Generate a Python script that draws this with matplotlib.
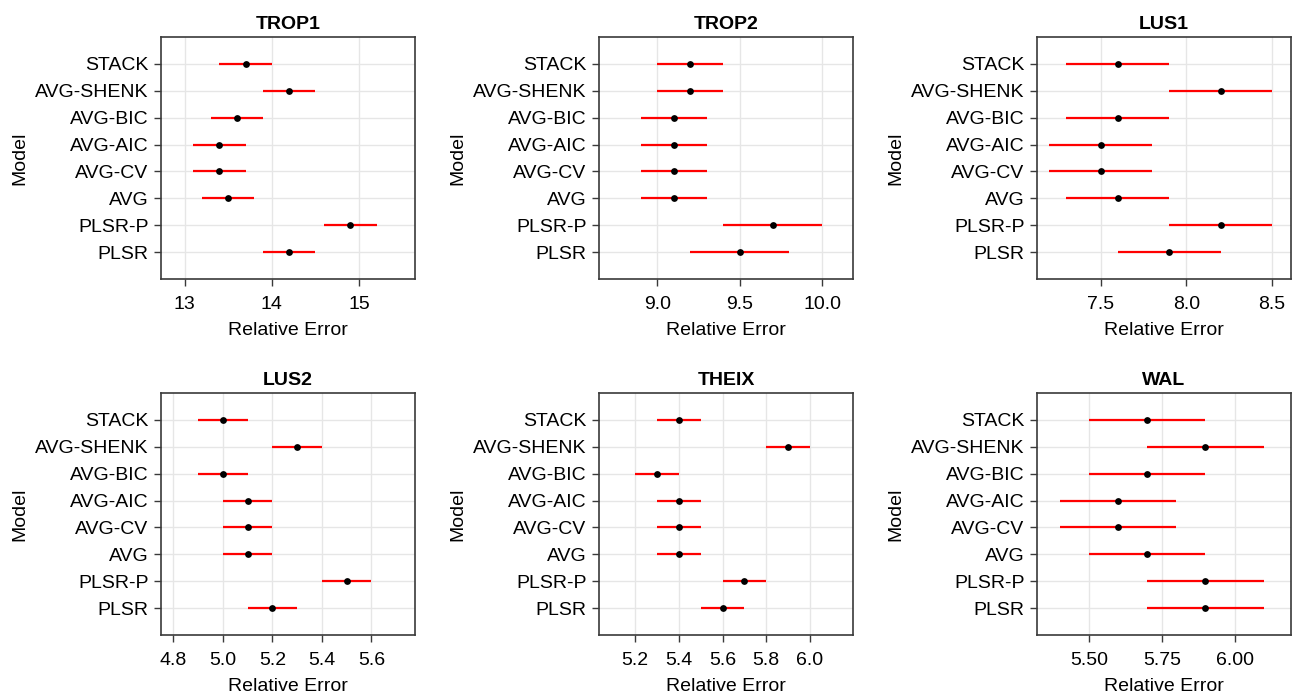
import matplotlib
matplotlib.use("Agg")
import matplotlib.pyplot as plt
import numpy as np

plt.rcParams['font.family'] = ['Liberation Sans', 'DejaVu Sans']

models = ["PLSR", "PLSR-P", "AVG", "AVG-CV", "AVG-AIC", "AVG-BIC", "AVG-SHENK", "STACK"]

trop1_mean = [14.2, 14.9, 13.5, 13.4, 13.4, 13.6, 14.2, 13.7]
trop1_low = [13.9, 14.6, 13.2, 13.1, 13.1, 13.3, 13.9, 13.4]
trop1_high = [14.5, 15.2, 13.8, 13.7, 13.7, 13.9, 14.5, 14.0]

trop2_mean = [9.5, 9.7, 9.1, 9.1, 9.1, 9.1, 9.2, 9.2]
trop2_low = [9.2, 9.4, 8.9, 8.9, 8.9, 8.9, 9.0, 9.0]
trop2_high = [9.8, 10.0, 9.3, 9.3, 9.3, 9.3, 9.4, 9.4]

lus1_mean = [7.9, 8.2, 7.6, 7.5, 7.5, 7.6, 8.2, 7.6]
lus1_low = [7.6, 7.9, 7.3, 7.2, 7.2, 7.3, 7.9, 7.3]
lus1_high = [8.2, 8.5, 7.9, 7.8, 7.8, 7.9, 8.5, 7.9]

lus2_mean = [5.2, 5.5, 5.1, 5.1, 5.1, 5.0, 5.3, 5.0]
lus2_low = [5.1, 5.4, 5.0, 5.0, 5.0, 4.9, 5.2, 4.9]
lus2_high = [5.3, 5.6, 5.2, 5.2, 5.2, 5.1, 5.4, 5.1]

theix_mean = [5.6, 5.7, 5.4, 5.4, 5.4, 5.3, 5.9, 5.4]
theix_low = [5.5, 5.6, 5.3, 5.3, 5.3, 5.2, 5.8, 5.3]
theix_high = [5.7, 5.8, 5.5, 5.5, 5.5, 5.4, 6.0, 5.5]

wal_mean = [5.9, 5.9, 5.7, 5.6, 5.6, 5.7, 5.9, 5.7]
wal_low = [5.7, 5.7, 5.5, 5.4, 5.4, 5.5, 5.7, 5.5]
wal_high = [6.1, 6.1, 5.9, 5.8, 5.8, 5.9, 6.1, 5.9]

panels = [
    ("TROP1", trop1_mean, trop1_low, trop1_high, (12.73, 15.64), [13, 14, 15], ["13", "14", "15"]),
    ("TROP2", trop2_mean, trop2_low, trop2_high, (8.646, 10.185), [9.0, 9.5, 10.0], ["9.0", "9.5", "10.0"]),
    ("LUS1", lus1_mean, lus1_low, lus1_high, (7.128, 8.61), [7.5, 8.0, 8.5], ["7.5", "8.0", "8.5"]),
    ("LUS2", lus2_mean, lus2_low, lus2_high, (4.75, 5.776), [4.8, 5.0, 5.2, 5.4, 5.6], ["4.8", "5.0", "5.2", "5.4", "5.6"]),
    ("THEIX", theix_mean, theix_low, theix_high, (5.034, 6.198), [5.2, 5.4, 5.6, 5.8, 6.0], ["5.2", "5.4", "5.6", "5.8", "6.0"]),
    ("WAL", wal_mean, wal_low, wal_high, (5.321, 6.194), [5.5, 5.75, 6.0], ["5.50", "5.75", "6.00"]),
]

W, H = 1293, 698
fig = plt.figure(figsize=(W / 100, H / 100), dpi=100)

lefts = [161, 599, 1037]
width = 254
tops = [37, 393]
height = 242

fs = 14
for i, (name, mean, low, high, xl, xt, xtl) in enumerate(panels):
    r, c = divmod(i, 3)
    l = lefts[c]
    t = tops[r]
    ax = fig.add_axes([l / W, 1 - (t + height) / H, width / W, height / H])
    y = np.arange(1, len(models) + 1)
    ax.hlines(y, low, high, color="#ff0000", lw=1.6, zorder=3)
    ax.scatter(mean, y, s=24, color="black", zorder=4, linewidths=0)
    ax.set_xlim(*xl)
    ax.set_ylim(0, 9)
    ax.set_yticks(y)
    ax.set_yticklabels(models, fontsize=fs)
    ax.set_xticks(xt)
    ax.set_xticklabels(xtl, fontsize=fs)
    ax.grid(True, color="#e6e6e6", lw=1.0, zorder=0)
    ax.set_axisbelow(True)
    for s in ax.spines.values():
        s.set_color("#3a3a3a")
        s.set_linewidth(1.2)
    ax.tick_params(axis="y", direction="out", length=5, width=1, color="#3a3a3a", pad=4, labelcolor="black")
    ax.tick_params(axis="x", direction="out", length=5, width=1, color="#3a3a3a", pad=7, labelcolor="black")
    ax.set_title(name, fontsize=fs, fontweight="bold", pad=6)
    ax.set_xlabel("Relative Error", fontsize=fs, labelpad=7)
    ax.set_ylabel("Model", fontsize=fs, labelpad=5)

fig.savefig("out.png", dpi=100)
